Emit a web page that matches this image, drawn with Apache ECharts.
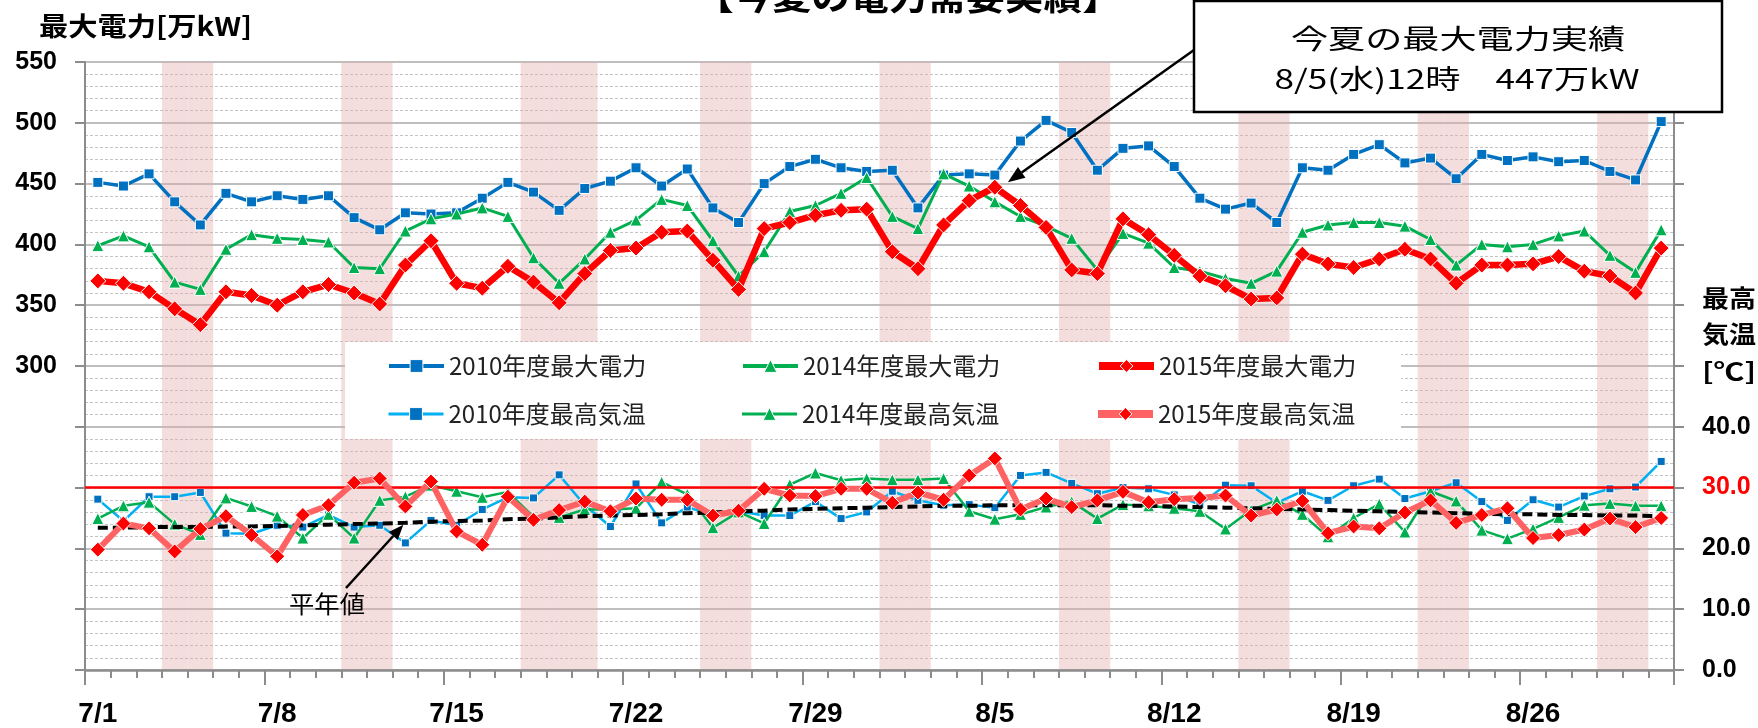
<!DOCTYPE html>
<html><head><meta charset="utf-8">
<script src="https://cdn.jsdelivr.net/npm/echarts@6/dist/echarts.min.js"></script>
<style>html,body{margin:0;padding:0;background:#fff;}#c{width:1758px;height:728px;}</style>
</head><body><div id="c"></div>
<script>
const categories = ['7/1','7/2','7/3','7/4','7/5','7/6','7/7','7/8','7/9','7/10','7/11','7/12','7/13','7/14','7/15','7/16','7/17','7/18','7/19','7/20','7/21','7/22','7/23','7/24','7/25','7/26','7/27','7/28','7/29','7/30','7/31',
'8/1','8/2','8/3','8/4','8/5','8/6','8/7','8/8','8/9','8/10','8/11','8/12','8/13','8/14','8/15','8/16','8/17','8/18','8/19','8/20','8/21','8/22','8/23','8/24','8/25','8/26','8/27','8/28','8/29','8/30','8/31'];
const shadedDays = ['7/4','7/5','7/11','7/12','7/18','7/19','7/20','7/25','7/26','8/1','8/2','8/8','8/9','8/15','8/16','8/22','8/23','8/29','8/30'];

const power2010 = [451,448,458,435,416,442,435,440,437,440,422,412,426,425,426,438,451,443,428,446,
 452,463,448,462,430,418,450,464,470,463,460,461,430,457,458,457,485,502,492,461,
 479,481,464,438,429,434,418,463,461,474,482,467,471,454,474,469,472,468,469,460,453,501];
const power2014 = [399,407,398,369,363,396,408,405,404,402,381,380,411,421,425,430,423,389,368,388,
 410,420,437,432,403,374,394,427,432,442,455,423,413,458,448,435,423,415,405,379,
 409,401,381,378,372,368,378,410,416,418,418,415,404,383,400,398,400,407,411,391,377,412];
const power2015 = [370,368,361,347,334,361,358,350,361,367,360,351,383,403,368,364,382,369,352,376,
 395,397,410,411,387,363,413,418,424,428,429,394,380,416,436,447,432,414,379,376,
 421,408,391,374,366,355,356,392,384,381,388,396,388,368,383,383,384,390,378,374,360,397];

const temp2010 = [28.1,24.5,28.5,28.5,29.2,22.5,22.4,23.8,23.5,25.5,23.5,23.8,20.9,24.6,23.8,26.4,28.4,28.3,32.1,27.1,
 23.6,30.6,24.2,26.8,25.4,26.1,25.4,25.4,27.7,24.9,26.0,29.4,27.9,27.1,27.2,26.7,32.0,32.5,30.7,29.0,
 30.0,29.8,28.8,27.2,30.4,30.3,27.5,29.4,27.9,30.3,31.4,28.2,29.4,30.8,27.7,24.6,28.0,26.8,28.6,29.8,30.1,34.3];
const temp2014 = [24.9,27.0,27.6,24.0,22.3,28.3,26.9,25.3,21.7,25.6,21.7,27.9,28.5,30.4,29.4,28.4,29.3,25.2,25.1,26.4,
 26.4,26.6,30.9,28.9,23.4,26.0,24.1,30.5,32.4,31.2,31.5,31.3,31.3,31.5,26.1,24.8,25.6,26.8,27.7,24.9,
 27.2,27.0,26.6,26.1,23.2,26.3,27.9,25.6,21.9,25.0,27.3,22.7,29.4,27.8,23.0,21.6,23.2,25.1,27.1,27.4,27.0,27.0];
const temp2015 = [19.8,24.1,23.3,19.5,23.2,25.3,22.2,18.7,25.5,27.1,30.8,31.5,26.9,31.0,22.8,20.6,28.5,24.7,26.3,27.7,
 26.1,28.2,28.0,28.0,25.4,26.2,29.8,28.7,28.6,29.8,29.8,27.5,29.2,28.0,32.0,34.8,26.4,28.2,26.8,27.9,
 29.3,27.6,28.1,28.3,28.7,25.4,26.4,27.8,22.5,23.6,23.3,25.9,27.9,24.2,25.5,26.6,21.7,22.2,23.1,24.9,23.5,25.0];
const tempNormal = [23.4,23.4,23.5,23.5,23.5,23.6,23.6,23.7,23.8,23.9,24.0,24.1,24.2,24.4,24.5,24.6,24.8,24.9,25.1,25.3,
 25.4,25.5,25.6,25.8,25.9,26.1,26.2,26.4,26.5,26.6,26.7,26.8,26.9,27.0,27.0,27.1,27.1,27.1,27.1,27.1,
 27.0,27.0,26.9,26.8,26.7,26.6,26.5,26.4,26.3,26.2,26.1,26.0,25.9,25.8,25.7,25.6,25.6,25.5,25.5,25.4,25.4,25.3];

const powerTicks = {min:50, max:550, step:50, labelFrom:300};
const tempTicks = {min:0, max:100, step:10, labelTo:40, highlight:30};

const CJK = '"Noto Sans CJK JP"';
const NUM = '"Liberation Sans"';
const chart = echarts.init(document.getElementById('c'), null, {renderer:'canvas'});

function measure(text, font){
  const c = document.createElement('canvas').getContext('2d');
  c.font = font; return c.measureText(text).width;
}
const legendFont = 24;
const legendTextW = measure('2010年度最大電力', legendFont + 'px ' + CJK);
const legendItemW = 55;
const legendGap = Math.max(10, 352 - legendItemW - 5 - legendTextW);

const styles = {
  '2010年度最大電力': {line:'#0070c0', width:3.5, symbol:'rect', size:10, marker:'#0070c0', z:3, lw:4},
  '2014年度最大電力': {line:'#00b050', width:3, symbol:'triangle', size:12, marker:'#00b050', z:4, lw:4},
  '2015年度最大電力': {line:'#ff0000', width:6.5, symbol:'diamond', size:16, marker:'#ff0000', z:5, lw:8},
  '2010年度最高気温': {line:'#00b0f0', width:2.5, symbol:'rect', size:8, marker:'#0070c0', z:3, lw:3},
  '2014年度最高気温': {line:'#00b050', width:2.5, symbol:'triangle', size:12, marker:'#00b050', z:4, lw:3},
  '2015年度最高気温': {line:'#ff6262', width:6, symbol:'diamond', size:15, marker:'#ff0000', z:6, lw:8}
};
const lineSeries = (name, data, yIdx) => {
  const s = styles[name];
  return {name, type:'line', data, xAxisIndex:0, yAxisIndex:yIdx, z:s.z,
    symbol:s.symbol, symbolSize:s.size, showSymbol:true,
    lineStyle:{color:s.line, width:s.width},
    itemStyle:{color:s.marker, borderColor:'#ffffff', borderWidth:1},
    emphasis:{disabled:true}};
};
const legendItem = name => ({name, lineStyle:{width:styles[name].lw, color:styles[name].line},
  itemStyle:{color:styles[name].marker, borderColor:'#fff', borderWidth:1}});
const legendBase = {left:387, padding:0, itemWidth:legendItemW, itemHeight:16, itemGap:legendGap, z:6,
  selectedMode:false, textStyle:{fontSize:legendFont, fontFamily:CJK, color:'#222'}};

const option = {
  animation:false,
  backgroundColor:'#ffffff',
  grid:{left:85, right:84, top:62, bottom:55, containLabel:false},
  legend:[
    Object.assign({}, legendBase, {top:354, data:['2010年度最大電力','2014年度最大電力','2015年度最大電力'].map(legendItem)}),
    Object.assign({}, legendBase, {top:402, data:['2010年度最高気温','2014年度最高気温','2015年度最高気温'].map(legendItem)})
  ],
  xAxis:[
    {type:'category', data:categories, boundaryGap:true, z:3,
     axisLine:{show:true, lineStyle:{color:'#8c8c8c', width:2.5}},
     axisTick:{show:true, interval:0, length:8, lineStyle:{color:'#8c8c8c', width:2}},
     axisLabel:{show:false}, splitLine:{show:false}},
    {type:'category', data:categories, boundaryGap:true, position:'bottom', z:3,
     axisLine:{show:false},
     axisTick:{show:true, interval:6, length:15, lineStyle:{color:'#8c8c8c', width:2}},
     axisLabel:{show:true, interval:6, margin:30, fontSize:28, fontWeight:'bold', fontFamily:NUM, color:'#000'},
     splitLine:{show:false}}
  ],
  yAxis:[
    {type:'value', min:powerTicks.min, max:powerTicks.max, interval:powerTicks.step, position:'left',
     axisLine:{show:true, lineStyle:{color:'#8c8c8c', width:2}},
     axisTick:{show:true, length:10, lineStyle:{color:'#8c8c8c', width:2}},
     axisLabel:{margin:28, fontSize:25, fontWeight:'bold', fontFamily:NUM, color:'#000',
       formatter:v => v >= powerTicks.labelFrom ? String(v) : ''},
     splitLine:{show:true, lineStyle:{color:'#a8a8a8', width:1.5}},
     minorTick:{show:false, splitNumber:5},
     minorSplitLine:{show:true, lineStyle:{color:'#c4c4c4', width:1, type:[3,2]}}},
    {type:'value', min:tempTicks.min, max:tempTicks.max, interval:tempTicks.step, position:'right',
     axisLine:{show:true, lineStyle:{color:'#8c8c8c', width:2}},
     axisTick:{show:true, length:10, lineStyle:{color:'#8c8c8c', width:2}},
     axisLabel:{margin:28, fontSize:25, fontWeight:'bold', fontFamily:NUM, color:'#000',
       formatter:v => v > tempTicks.labelTo ? '' : (v === tempTicks.highlight ? '{r|' + v.toFixed(1) + '}' : v.toFixed(1)),
       rich:{r:{color:'#ff0000', fontSize:25, fontWeight:'bold', fontFamily:NUM}}},
     splitLine:{show:false}},
    {type:'value', min:0, max:1, show:false}
  ],
  series:[
    {name:'shade', type:'bar', xAxisIndex:0, yAxisIndex:2, z:1, silent:true, barCategoryGap:'0%',
     data:categories.map(c => shadedDays.includes(c) ? 1 : '-'),
     itemStyle:{color:'rgba(228,170,170,0.40)'}},
    lineSeries('2010年度最大電力', power2010, 0),
    lineSeries('2014年度最大電力', power2014, 0),
    lineSeries('2015年度最大電力', power2015, 0),
    lineSeries('2010年度最高気温', temp2010, 1),
    lineSeries('2014年度最高気温', temp2014, 1),
    {name:'平年値', type:'line', data:tempNormal, xAxisIndex:0, yAxisIndex:1, z:5, symbol:'none',
     lineStyle:{color:'#000', width:4, type:[10,5]}, emphasis:{disabled:true},
     markLine:{silent:true, symbol:'none', label:{show:false},
       lineStyle:{color:'#ff0000', width:2.5, type:'solid'},
       data:[{yAxis:tempTicks.highlight}]}},
    lineSeries('2015年度最高気温', temp2015, 1)
  ]
};
chart.setOption(option);

function textEl(text, font, x, y, targetW, align, color){
  const w = measure(text, font);
  return {type:'text', x, y, z:20, scaleX: targetW ? targetW / w : 1, silent:true,
    style:{text, font, fill: color || '#000', textAlign: align || 'center', textVerticalAlign:'middle',
      align: align || 'center', verticalAlign:'middle'}};
}
function arrow(x1, y1, x2, y2, len, half){
  const dx = x2 - x1, dy = y2 - y1, d = Math.hypot(dx, dy), ux = dx / d, uy = dy / d;
  const bx = x2 - ux * len, by = y2 - uy * len;
  return [
    {type:'line', z:20, silent:true, shape:{x1, y1, x2:bx, y2:by}, style:{stroke:'#000', lineWidth:2.5}},
    {type:'polygon', z:20, silent:true, shape:{points:[[x2,y2],[bx - uy*half, by + ux*half],[bx + uy*half, by - ux*half]]}, style:{fill:'#000'}}
  ];
}

const peakIdx = power2015.indexOf(Math.max(...power2015));
const peakPt = chart.convertToPixel({xAxisIndex:0, yAxisIndex:0}, [categories[peakIdx], power2015[peakIdx]]);
const normIdx = categories.indexOf('7/13');
const normPt = chart.convertToPixel({xAxisIndex:0, yAxisIndex:1}, [categories[normIdx], tempNormal[normIdx]]);

const graphics = [
  {type:'rect', z:3, silent:true, shape:{x:345, y:342, width:1056, height:97}, style:{fill:'#ffffff'}},
  textEl('【今夏の電力需要実績】', 'bold 36px ' + CJK, 908, -4, 426),
  textEl('最大電力[万kW]', 'bold 26px ' + CJK, 39, 26, 213, 'left'),
  textEl('最高', 'bold 24px ' + CJK, 1729, 298, 54),
  textEl('気温', 'bold 24px ' + CJK, 1729, 334, 54),
  textEl('[℃]', 'bold 24px ' + CJK, 1729, 371, 54),
  {type:'rect', z:15, silent:true, shape:{x:1194, y:1, width:528, height:111}, style:{fill:'#ffffff', stroke:'#000', lineWidth:2.5}},
  textEl('今夏の最大電力実績', '27px ' + CJK, 1458, 39, 334),
  textEl('8/5(水)12時　447万kW', '27px ' + CJK, 1457, 79, 365),
  textEl('平年値', '24px ' + CJK, 327, 604, 76),
  ...arrow(1194, 50, peakPt[0] + 13, peakPt[1] - 5, 17, 6.5),
  ...arrow(346, 588, normPt[0] - 2, normPt[1] + 2, 15, 6)
];
chart.setOption({graphic:graphics});
</script>
</body></html>
